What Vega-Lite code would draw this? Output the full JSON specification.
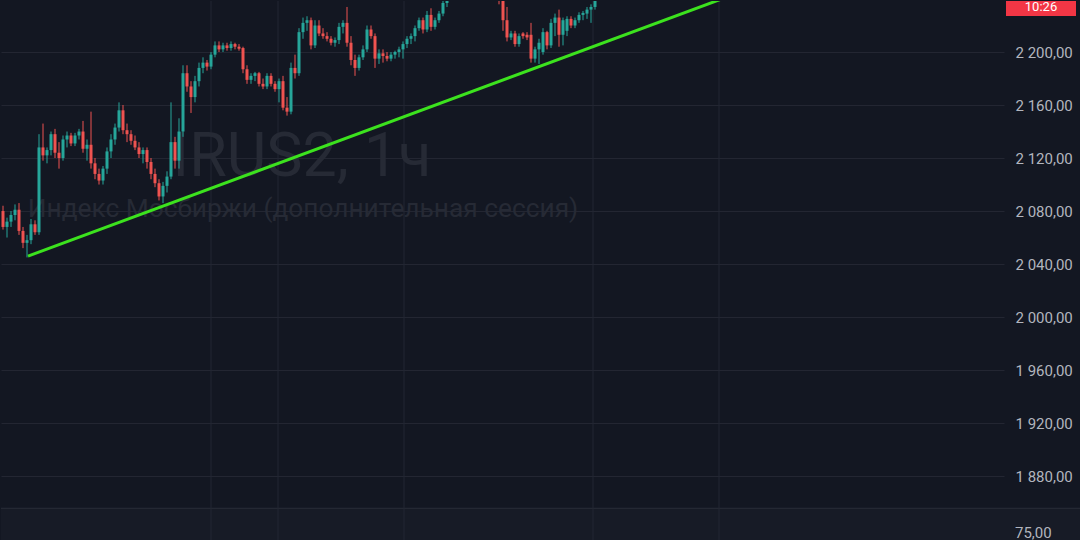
{
  "$schema": "https://vega.github.io/schema/vega-lite/v6.json",
  "width": 1003,
  "height": 540,
  "padding": 0,
  "background": "#131722",
  "config": {
    "view": {"stroke": null},
    "locale": {"number": {"decimal": ",", "thousands": " ", "grouping": [3], "currency": ["", ""]}}
  },
  "data": {"values": [{}]},
  "datasets": {
    "candles": [
      {"i":0,"o":2080,"h":2084,"l":2066,"c":2068},
      {"i":1,"o":2068,"h":2075,"l":2060,"c":2072},
      {"i":2,"o":2072,"h":2080,"l":2068,"c":2077},
      {"i":3,"o":2077,"h":2085,"l":2073,"c":2081},
      {"i":4,"o":2081,"h":2086,"l":2062,"c":2065},
      {"i":5,"o":2065,"h":2068,"l":2052,"c":2056},
      {"i":6,"o":2056,"h":2062,"l":2045,"c":2058},
      {"i":7,"o":2058,"h":2074,"l":2055,"c":2070},
      {"i":8,"o":2070,"h":2073,"l":2062,"c":2064},
      {"i":9,"o":2064,"h":2138,"l":2062,"c":2128},
      {"i":10,"o":2128,"h":2146,"l":2118,"c":2122},
      {"i":11,"o":2122,"h":2128,"l":2116,"c":2126},
      {"i":12,"o":2126,"h":2140,"l":2122,"c":2138},
      {"i":13,"o":2138,"h":2142,"l":2120,"c":2124},
      {"i":14,"o":2124,"h":2132,"l":2112,"c":2120},
      {"i":15,"o":2120,"h":2137,"l":2118,"c":2134},
      {"i":16,"o":2134,"h":2140,"l":2128,"c":2137},
      {"i":17,"o":2137,"h":2139,"l":2129,"c":2131},
      {"i":18,"o":2131,"h":2139,"l":2129,"c":2137},
      {"i":19,"o":2137,"h":2142,"l":2134,"c":2140},
      {"i":20,"o":2140,"h":2148,"l":2124,"c":2127},
      {"i":21,"o":2127,"h":2134,"l":2118,"c":2130},
      {"i":22,"o":2130,"h":2155,"l":2112,"c":2116},
      {"i":23,"o":2116,"h":2120,"l":2104,"c":2108},
      {"i":24,"o":2108,"h":2112,"l":2100,"c":2103},
      {"i":25,"o":2103,"h":2114,"l":2100,"c":2112},
      {"i":26,"o":2112,"h":2128,"l":2108,"c":2125},
      {"i":27,"o":2125,"h":2138,"l":2120,"c":2134},
      {"i":28,"o":2134,"h":2146,"l":2130,"c":2143},
      {"i":29,"o":2143,"h":2162,"l":2140,"c":2156},
      {"i":30,"o":2156,"h":2160,"l":2138,"c":2141},
      {"i":31,"o":2141,"h":2146,"l":2132,"c":2138},
      {"i":32,"o":2138,"h":2141,"l":2130,"c":2133},
      {"i":33,"o":2133,"h":2137,"l":2126,"c":2128},
      {"i":34,"o":2128,"h":2132,"l":2120,"c":2123},
      {"i":35,"o":2123,"h":2128,"l":2116,"c":2126},
      {"i":36,"o":2126,"h":2128,"l":2112,"c":2117},
      {"i":37,"o":2117,"h":2120,"l":2104,"c":2108},
      {"i":38,"o":2108,"h":2112,"l":2098,"c":2101},
      {"i":39,"o":2101,"h":2104,"l":2088,"c":2091},
      {"i":40,"o":2091,"h":2102,"l":2086,"c":2099},
      {"i":41,"o":2099,"h":2110,"l":2094,"c":2106},
      {"i":42,"o":2106,"h":2162,"l":2104,"c":2132},
      {"i":43,"o":2132,"h":2136,"l":2112,"c":2118},
      {"i":44,"o":2118,"h":2150,"l":2112,"c":2140},
      {"i":45,"o":2140,"h":2190,"l":2136,"c":2184},
      {"i":46,"o":2184,"h":2190,"l":2170,"c":2174},
      {"i":47,"o":2174,"h":2178,"l":2154,"c":2166},
      {"i":48,"o":2166,"h":2182,"l":2162,"c":2178},
      {"i":49,"o":2178,"h":2192,"l":2174,"c":2188},
      {"i":50,"o":2188,"h":2196,"l":2184,"c":2192},
      {"i":51,"o":2192,"h":2194,"l":2186,"c":2189},
      {"i":52,"o":2189,"h":2200,"l":2187,"c":2198},
      {"i":53,"o":2198,"h":2208,"l":2196,"c":2205},
      {"i":54,"o":2205,"h":2208,"l":2200,"c":2202},
      {"i":55,"o":2202,"h":2207,"l":2200,"c":2205},
      {"i":56,"o":2205,"h":2207,"l":2201,"c":2203},
      {"i":57,"o":2203,"h":2208,"l":2201,"c":2206},
      {"i":58,"o":2206,"h":2207,"l":2202,"c":2204},
      {"i":59,"o":2204,"h":2206,"l":2201,"c":2202.5},
      {"i":60,"o":2203,"h":2204,"l":2184,"c":2187},
      {"i":61,"o":2187,"h":2190,"l":2176,"c":2179},
      {"i":62,"o":2179,"h":2184,"l":2176,"c":2182},
      {"i":63,"o":2182,"h":2185,"l":2178,"c":2184},
      {"i":64,"o":2184,"h":2185,"l":2174,"c":2176},
      {"i":65,"o":2176,"h":2180,"l":2172,"c":2174},
      {"i":66,"o":2174,"h":2184,"l":2172,"c":2182},
      {"i":67,"o":2182,"h":2184,"l":2174,"c":2176},
      {"i":68,"o":2176,"h":2178,"l":2170,"c":2172},
      {"i":69,"o":2172,"h":2180,"l":2162,"c":2178},
      {"i":70,"o":2178,"h":2182,"l":2156,"c":2158},
      {"i":71,"o":2158,"h":2166,"l":2152,"c":2155},
      {"i":72,"o":2155,"h":2192,"l":2153,"c":2188},
      {"i":73,"o":2188,"h":2198,"l":2180,"c":2184},
      {"i":74,"o":2184,"h":2218,"l":2182,"c":2215},
      {"i":75,"o":2215,"h":2226,"l":2210,"c":2222},
      {"i":76,"o":2222,"h":2227,"l":2216,"c":2224},
      {"i":77,"o":2224,"h":2226,"l":2202,"c":2205},
      {"i":78,"o":2205,"h":2224,"l":2203,"c":2220},
      {"i":79,"o":2220,"h":2224,"l":2212,"c":2214},
      {"i":80,"o":2214,"h":2218,"l":2210,"c":2212},
      {"i":81,"o":2212,"h":2215,"l":2208,"c":2210},
      {"i":82,"o":2210,"h":2212,"l":2205,"c":2207},
      {"i":83,"o":2207,"h":2211,"l":2204,"c":2209},
      {"i":84,"o":2209,"h":2222,"l":2206,"c":2219},
      {"i":85,"o":2219,"h":2224,"l":2214,"c":2222},
      {"i":86,"o":2222,"h":2234,"l":2204,"c":2207},
      {"i":87,"o":2207,"h":2212,"l":2190,"c":2194},
      {"i":88,"o":2194,"h":2198,"l":2182,"c":2188},
      {"i":89,"o":2188,"h":2198,"l":2186,"c":2196},
      {"i":90,"o":2196,"h":2205,"l":2194,"c":2202},
      {"i":91,"o":2202,"h":2220,"l":2200,"c":2217},
      {"i":92,"o":2217,"h":2220,"l":2210,"c":2212},
      {"i":93,"o":2212,"h":2214,"l":2188,"c":2195},
      {"i":94,"o":2195,"h":2202,"l":2191,"c":2199},
      {"i":95,"o":2199,"h":2202,"l":2192,"c":2197},
      {"i":96,"o":2197,"h":2200,"l":2193,"c":2195},
      {"i":97,"o":2195,"h":2200,"l":2193,"c":2198},
      {"i":98,"o":2198,"h":2201,"l":2195,"c":2200},
      {"i":99,"o":2200,"h":2204,"l":2196,"c":2202},
      {"i":100,"o":2202,"h":2208,"l":2195,"c":2206},
      {"i":101,"o":2206,"h":2212,"l":2203,"c":2210},
      {"i":102,"o":2210,"h":2214,"l":2206,"c":2212},
      {"i":103,"o":2212,"h":2220,"l":2208,"c":2218},
      {"i":104,"o":2218,"h":2226,"l":2216,"c":2224},
      {"i":105,"o":2224,"h":2226,"l":2214,"c":2217},
      {"i":106,"o":2217,"h":2231,"l":2215,"c":2228},
      {"i":107,"o":2228,"h":2233,"l":2216,"c":2219},
      {"i":108,"o":2219,"h":2226,"l":2217,"c":2224},
      {"i":109,"o":2224,"h":2231,"l":2222,"c":2229},
      {"i":110,"o":2229,"h":2240,"l":2227,"c":2237},
      {"i":111,"o":2237,"h":2246,"l":2234,"c":2243},
      {"i":112,"o":2243,"h":2252,"l":2240,"c":2249},
      {"i":113,"o":2249,"h":2256,"l":2244,"c":2252},
      {"i":114,"o":2252,"h":2258,"l":2246,"c":2250},
      {"i":115,"o":2250,"h":2260,"l":2247,"c":2257},
      {"i":116,"o":2257,"h":2263,"l":2251,"c":2254},
      {"i":117,"o":2254,"h":2262,"l":2250,"c":2259},
      {"i":118,"o":2259,"h":2265,"l":2253,"c":2256},
      {"i":119,"o":2256,"h":2264,"l":2252,"c":2261},
      {"i":120,"o":2261,"h":2266,"l":2254,"c":2257},
      {"i":121,"o":2257,"h":2262,"l":2250,"c":2253},
      {"i":122,"o":2253,"h":2258,"l":2246,"c":2250},
      {"i":123,"o":2250,"h":2254,"l":2242,"c":2246},
      {"i":124,"o":2246,"h":2250,"l":2236,"c":2242},
      {"i":125,"o":2242,"h":2245,"l":2216,"c":2224},
      {"i":126,"o":2224,"h":2234,"l":2208,"c":2211},
      {"i":127,"o":2211,"h":2216,"l":2209,"c":2214},
      {"i":128,"o":2214,"h":2216,"l":2204,"c":2206},
      {"i":129,"o":2206,"h":2214,"l":2204,"c":2212},
      {"i":130,"o":2214,"h":2215,"l":2210,"c":2212},
      {"i":131,"o":2213,"h":2215,"l":2209,"c":2211},
      {"i":132,"o":2213,"h":2222,"l":2192,"c":2195},
      {"i":133,"o":2195,"h":2204,"l":2192,"c":2202},
      {"i":134,"o":2202,"h":2210,"l":2191,"c":2207},
      {"i":135,"o":2200,"h":2218,"l":2198,"c":2215},
      {"i":136,"o":2215,"h":2216,"l":2202,"c":2205},
      {"i":137,"o":2205,"h":2225,"l":2203,"c":2222},
      {"i":138,"o":2222,"h":2229,"l":2212,"c":2226},
      {"i":139,"o":2226,"h":2232,"l":2204,"c":2213},
      {"i":140,"o":2213,"h":2226,"l":2205,"c":2224},
      {"i":141,"o":2216,"h":2227,"l":2212,"c":2225},
      {"i":142,"o":2225,"h":2227,"l":2218,"c":2220},
      {"i":143,"o":2220,"h":2226,"l":2218,"c":2224},
      {"i":144,"o":2224,"h":2230,"l":2222,"c":2228},
      {"i":145,"o":2228,"h":2231,"l":2224,"c":2229.5},
      {"i":146,"o":2229,"h":2234,"l":2225,"c":2232},
      {"i":147,"o":2232,"h":2236,"l":2222,"c":2234},
      {"i":148,"o":2234,"h":2262,"l":2232,"c":2255}
    ],
    "trend": [
      {"i": 6.25, "p": 2046},
      {"i": 190, "p": 2251.6}
    ],
    "vgrid": [
      {"i": 52}, {"i": 68.75}, {"i": 100.25}, {"i": 147.5}, {"i": 179}
    ]
  },
  "layer": [
    {
      "mark": {"type": "rect", "color": "#171b26"},
      "encoding": {
        "x": {"datum": -0.5, "type": "quantitative", "scale": {"domain": [-0.5, 250.25], "nice": false, "zero": false}, "axis": null},
        "x2": {"datum": 269.5},
        "y": {"datum": 1831, "type": "quantitative", "scale": {"domain": [1831, 2238.5], "nice": false, "zero": false},
          "axis": {"orient": "right", "values": [1880, 1920, 1960, 2000, 2040, 2080, 2120, 2160, 2200], "format": ",.2f",
            "domain": false, "ticks": false, "grid": true, "gridColor": "#232632", "gridWidth": 1,
            "labelAlign": "left", "labelPadding": 11, "labelColor": "#b2b5be", "labelFont": "Roboto", "labelFontSize": 15, "title": null}},
        "y2": {"datum": 1855.7}
      }
    },
    {
      "mark": {"type": "rule", "color": "#2a2e39", "strokeWidth": 1},
      "encoding": {"x": {"datum": -0.5, "type": "quantitative"}, "x2": {"datum": 269.5}, "y": {"datum": 1855.7, "type": "quantitative"}}
    },
    {
      "data": {"name": "vgrid"},
      "mark": {"type": "rule", "color": "#232632", "strokeWidth": 1},
      "encoding": {"x": {"field": "i", "type": "quantitative"}}
    },
    {
      "mark": {"type": "text", "text": "IRUS2, 1ч", "font": "Roboto", "fontSize": 61, "color": "#262a35", "align": "center", "baseline": "middle"},
      "encoding": {"x": {"datum": 74.75, "type": "quantitative"}, "y": {"datum": 2120, "type": "quantitative"}}
    },
    {
      "mark": {"type": "text", "text": "Индекс Мосбиржи (дополнительная сессия)", "font": "Roboto", "fontSize": 26.3, "color": "#262a35", "align": "center", "baseline": "middle"},
      "encoding": {"x": {"datum": 75, "type": "quantitative"}, "y": {"datum": 2081.5, "type": "quantitative"}}
    },
    {
      "data": {"name": "candles"},
      "mark": {"type": "rule", "strokeWidth": 1, "clip": true},
      "encoding": {
        "x": {"field": "i", "type": "quantitative"},
        "y": {"field": "l", "type": "quantitative"},
        "y2": {"field": "h"},
        "color": {"condition": {"test": "datum.c >= datum.o", "value": "#26a69a"}, "value": "#ef5350"}
      }
    },
    {
      "data": {"name": "candles"},
      "mark": {"type": "rule", "strokeWidth": 3, "clip": true},
      "encoding": {
        "x": {"field": "i", "type": "quantitative"},
        "y": {"field": "o", "type": "quantitative"},
        "y2": {"field": "c"},
        "color": {"condition": {"test": "datum.c >= datum.o", "value": "#26a69a"}, "value": "#ef5350"}
      }
    },
    {
      "data": {"name": "trend"},
      "mark": {"type": "line", "color": "#3ce21e", "strokeWidth": 3, "clip": true},
      "encoding": {"x": {"field": "i", "type": "quantitative"}, "y": {"field": "p", "type": "quantitative"}}
    },
    {
      "mark": {"type": "rect", "color": "#f23645"},
      "encoding": {"x": {"datum": 250.75, "type": "quantitative"}, "x2": {"datum": 268.25}, "y": {"datum": 2227.2, "type": "quantitative"}, "y2": {"datum": 2238.5}}
    },
    {
      "mark": {"type": "text", "text": "10:26", "font": "Roboto", "fontSize": 13, "color": "#ffffff", "align": "center", "baseline": "alphabetic"},
      "encoding": {"x": {"datum": 259.5, "type": "quantitative"}, "y": {"datum": 2231.2, "type": "quantitative"}}
    },
    {
      "mark": {"type": "text", "text": "75,00", "font": "Roboto", "fontSize": 15, "color": "#b2b5be", "align": "left", "baseline": "middle"},
      "encoding": {"x": {"datum": 253, "type": "quantitative"}, "y": {"datum": 1837, "type": "quantitative"}}
    }
  ]
}
